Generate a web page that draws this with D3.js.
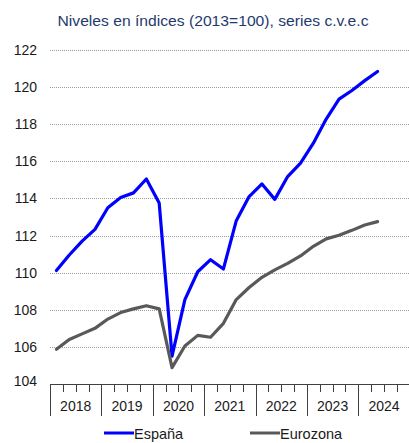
<!DOCTYPE html>
<html>
<head>
<meta charset="utf-8">
<script src="https://cdn.jsdelivr.net/npm/d3@7"></script>
<style>
  html, body { margin: 0; padding: 0; background: #fff; }
  svg { display: block; font-family: "Liberation Sans", Arial, sans-serif; }
</style>
</head>
<body>
<svg id="chart" width="409" height="443"></svg>
<script>
// Quarterly index levels (2013 = 100), seasonally and calendar adjusted
const years = ["2018", "2019", "2020", "2021", "2022", "2023", "2024"];
const quartersPerYear = 4;
const espana = [
  110.12, 110.95, 111.7, 112.33,
  113.5, 114.05, 114.3, 115.05,
  113.75, 105.5, 108.55, 110.05,
  110.7, 110.2, 112.8, 114.1,
  114.78, 113.95, 115.18, 115.9,
  116.98, 118.28, 119.35, 119.82,
  120.35, 120.84
];
const eurozona = [
  105.87, 106.4, 106.7, 107.0,
  107.5, 107.85, 108.05, 108.22,
  108.05, 104.88, 106.05, 106.62,
  106.52, 107.27, 108.55, 109.2,
  109.75, 110.15, 110.5, 110.9,
  111.42, 111.82, 112.02, 112.28,
  112.57, 112.75
];
const yTicks = [104, 106, 108, 110, 112, 114, 116, 118, 120, 122];
const seriesNames = ["España", "Eurozona"];
const seriesColors = ["#0000ff", "#595959"];

const svg = d3.select("#chart");
const plotLeft = 50, plotRight = 409.7, plotTop = 50, plotBottom = 384;
const nQ = years.length * quartersPerYear;

const x = d3.scaleLinear().domain([0, nQ]).range([plotLeft, plotRight]);
const y = d3.scaleLinear().domain([104, 122]).range([plotBottom, plotTop]);

// Title
svg.append("text")
  .attr("x", 213).attr("y", 25.5)
  .attr("text-anchor", "middle")
  .attr("font-size", 15.5)
  .attr("fill", "#1f3a6e")
  .attr("textLength", 311)
  .attr("lengthAdjust", "spacingAndGlyphs")
  .text("Niveles en índices (2013=100), series c.v.e.c");

// Horizontal dotted gridlines
svg.append("g").selectAll("line")
  .data(yTicks.filter(d => d > 104))
  .join("line")
  .attr("x1", plotLeft).attr("x2", 409)
  .attr("y1", d => Math.round(y(d)) + 0.5).attr("y2", d => Math.round(y(d)) + 0.5)
  .attr("stroke", "#9a9a9a")
  .attr("stroke-width", 1)
  .attr("stroke-dasharray", "1,1");

// Y axis labels
const yAxis = d3.axisLeft(y).tickValues(yTicks).tickSize(0).tickPadding(0);
const gy = svg.append("g").attr("transform", "translate(37,0)").call(yAxis);
gy.select(".domain").remove();
gy.selectAll("text")
  .attr("font-size", 14)
  .attr("fill", "#1a1a1a")
  .attr("font-family", "Liberation Sans, Arial, sans-serif");
gy.selectAll(".tick").filter(d => d === 104).select("text").attr("dy", "0.1em");

// X axis: baseline, quarterly minor ticks, yearly separators
const xg = svg.append("g");
xg.append("line")
  .attr("x1", plotLeft).attr("x2", 409)
  .attr("y1", plotBottom + 0.5).attr("y2", plotBottom + 0.5)
  .attr("stroke", "#404040").attr("stroke-width", 1);
const qTicks = d3.range(0, nQ + 1);
xg.selectAll("line.q")
  .data(qTicks)
  .join("line")
  .attr("class", "q")
  .attr("x1", d => Math.round(x(d)) + 0.5).attr("x2", d => Math.round(x(d)) + 0.5)
  .attr("y1", plotBottom)
  .attr("y2", d => d % quartersPerYear === 0 ? plotBottom + 32 : plotBottom + 8)
  .attr("stroke", "#404040").attr("stroke-width", 1);
xg.selectAll("text")
  .data(years)
  .join("text")
  .attr("x", (d, i) => x(i * quartersPerYear + quartersPerYear / 2))
  .attr("y", plotBottom + 27)
  .attr("text-anchor", "middle")
  .attr("font-size", 14)
  .attr("fill", "#1a1a1a")
  .text(d => d);

// Lines
const line = d3.line()
  .x((d, i) => x(i + 0.5))
  .y(d => y(d));
[espana, eurozona].forEach((s, k) => {
  svg.append("path")
    .datum(s)
    .attr("d", line)
    .attr("fill", "none")
    .attr("stroke", seriesColors[k])
    .attr("stroke-width", 3.2)
    .attr("stroke-linejoin", "round")
    .attr("stroke-linecap", "round");
});

// Legend
const legendX = [104, 250];
const lg = svg.append("g");
seriesNames.forEach((name, k) => {
  lg.append("line")
    .attr("x1", legendX[k]).attr("x2", legendX[k] + 30)
    .attr("y1", 433).attr("y2", 433)
    .attr("stroke", seriesColors[k]).attr("stroke-width", 3);
  lg.append("text")
    .attr("x", legendX[k] + 30).attr("y", 438.5)
    .attr("font-size", 14.5)
    .attr("fill", "#1a1a1a")
    .text(name);
});
</script>
</body>
</html>
